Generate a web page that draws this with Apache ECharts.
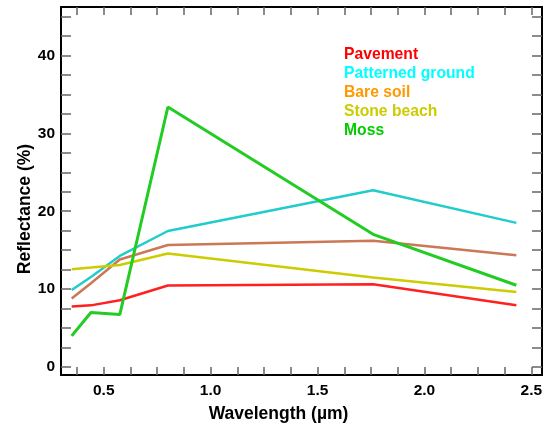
<!DOCTYPE html>
<html>
<head>
<meta charset="utf-8">
<script src="https://cdn.jsdelivr.net/npm/echarts@6/dist/echarts.min.js"></script>
<style>html,body{margin:0;padding:0;background:#fff;}#chart{width:546px;height:428px;}</style>
</head>
<body>
<div id="chart"></div>
<script>
// Wavelengths (µm) of the sampled points
var wavelengths = [0.35, 0.44, 0.575, 0.80, 1.76, 2.43];
// Reflectance (%) per surface type
var pavement        = [7.75, 7.9, 8.56, 10.45, 10.6, 7.92];
var patternedGround = [9.88, 11.55, 14.25, 17.46, 22.7, 18.5];
var bareSoil        = [8.78, 10.75, 13.8, 15.66, 16.2, 14.34];
var stoneBeach      = [12.54, 12.76, 13.1, 14.56, 11.47, 9.63];
var moss            = [3.98, 6.98, 6.72, 33.4, 17.03, 10.49];

var seriesNames = ['Pavement', 'Patterned ground', 'Bare soil', 'Stone beach', 'Moss'];
var seriesValues = [pavement, patternedGround, bareSoil, stoneBeach, moss];

// Tick positions and labels
var xTickValues = [0.375,0.5,0.625,0.75,0.875,1.0,1.125,1.25,1.375,1.5,1.625,1.75,1.875,2.0,2.125,2.25,2.375,2.5];
var xLabelValues = [0.5, 1.0, 1.5, 2.0, 2.5];
var yTickValues = [0,2.5,5,7.5,10,12.5,15,17.5,20,22.5,25,27.5,30,32.5,35,37.5,40,42.5,45];
var yLabelValues = [0, 10, 20, 30, 40];

var lineColors = ['#ff2020', '#22cccc', '#cc7755', '#cccc00', '#22cc22'];
var legendColors = ['#ff0000', '#00ffff', '#ff9900', '#cccc00', '#00cc00'];
var lineWidths = [2.5, 2.5, 2.5, 2.5, 3];

var FONT = '"Liberation Sans", Arial, Helvetica, sans-serif';

function pairs(vals) {
  return wavelengths.map(function (w, i) { return [w, vals[i]]; });
}

var chart = echarts.init(document.getElementById('chart'), null, {renderer: 'canvas'});

var tickStyle = {color: '#666', width: 1.5};
var xBase = {
  type: 'value', min: 0.3, max: 2.55,
  axisLine: {show: true, onZero: false, lineStyle: {color: '#000', width: 2}},
  axisTick: {show: true, inside: true, length: 8, customValues: xTickValues, lineStyle: tickStyle},
  splitLine: {show: false}
};
var yBase = {
  type: 'value', min: -1.05, max: 46.25,
  axisLine: {show: true, onZero: false, lineStyle: {color: '#000', width: 2}},
  axisTick: {show: true, inside: true, length: 10, customValues: yTickValues, lineStyle: tickStyle},
  splitLine: {show: false}
};

var option = {
  backgroundColor: '#fff',
  animation: false,
  grid: {left: 61, right: 4, top: 7, bottom: 52, containLabel: false},
  legend: {
    show: true, orient: 'vertical', left: 334, top: 40.6,
    icon: 'none', itemWidth: 0, itemHeight: 14, itemGap: 0,
    selectedMode: false,
    data: seriesNames.map(function (n, i) {
      return {name: n, icon: 'none', textStyle: {color: legendColors[i]}};
    }),
    textStyle: {fontFamily: FONT, fontWeight: 'bold', fontSize: 15.7, lineHeight: 18.8}
  },
  xAxis: [
    Object.assign({}, xBase, {
      position: 'bottom',
      name: 'Wavelength (µm)', nameLocation: 'middle', nameGap: 30, nameMoveOverlap: false,
      nameTextStyle: {fontFamily: FONT, fontWeight: 'bold', fontSize: 17.5, color: '#000', padding: [0, 46, 0, 0]},
      axisLabel: {show: true, customValues: xLabelValues, margin: 8,
        formatter: function (v) { return v.toFixed(1); },
        fontFamily: FONT, fontWeight: 'bold', fontSize: 15.5, color: '#000'}
    }),
    Object.assign({}, xBase, {position: 'top', axisLabel: {show: false}})
  ],
  yAxis: [
    Object.assign({}, yBase, {
      position: 'left',
      name: 'Reflectance (%)', nameLocation: 'middle', nameGap: 27, nameMoveOverlap: false,
      nameTextStyle: {fontFamily: FONT, fontWeight: 'bold', fontSize: 17.5, color: '#000', padding: [0, 36, 0, 0]},
      axisLabel: {show: true, customValues: yLabelValues, margin: 6,
        fontFamily: FONT, fontWeight: 'bold', fontSize: 15.5, color: '#000'}
    }),
    Object.assign({}, yBase, {position: 'right', axisLabel: {show: false}})
  ],
  series: seriesNames.map(function (n, i) {
    return {
      name: n, type: 'line', xAxisIndex: 0, yAxisIndex: 0,
      data: pairs(seriesValues[i]),
      showSymbol: false, symbol: 'none', smooth: false,
      lineStyle: {color: lineColors[i], width: lineWidths[i]},
      itemStyle: {color: lineColors[i]},
      z: 2
    };
  })
};
chart.setOption(option);
</script>
</body>
</html>
